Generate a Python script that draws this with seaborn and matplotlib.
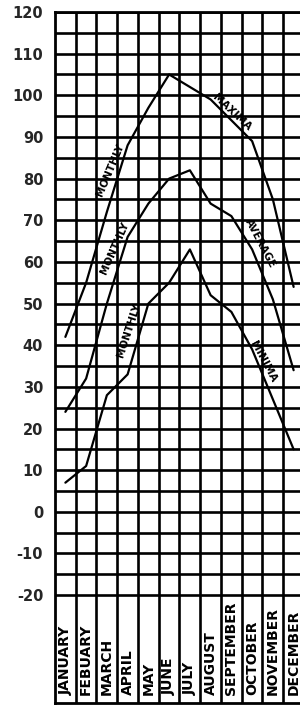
import numpy as np
import pandas as pd
import matplotlib
matplotlib.use("Agg")
import matplotlib.pyplot as plt
import seaborn as sns

months = ["JANUARY", "FEBUARY", "MARCH", "APRIL", "MAY", "JUNE", "JULY",
          "AUGUST", "SEPTEMBER", "OCTOBER", "NOVEMBER", "DECEMBER"]
maxima = [42, 55, 72, 88, 97, 105, 102, 99, 94, 89, 75, 54]
average = [24, 32, 50, 66, 74, 80, 82, 74, 71, 63, 51, 34]
minima = [7, 11, 28, 33, 50, 55, 63, 52, 48, 39, 27, 15]
ytick_values = list(range(-20, 121, 10))
ytick_labels = [str(v) for v in ytick_values]

# curve annotations: text, x (month index), y (value), angle
annotations = [
    ("MONTHLY", 2.15, 82.1, 67),
    ("MAXIMA", 8.03, 96.0, -43),
    ("MONTHLY", 2.36, 63.3, 66),
    ("AVERAGE", 9.38, 64.5, -62),
    ("MONTHLY", 3.05, 43.6, 72),
    ("MINIMA", 9.55, 36.0, -62),
]

sns.set_style("white")
plt.rcParams['font.family'] = ['DejaVu Sans']

df = pd.DataFrame({
    "month": list(range(12)) * 3,
    "value": maxima + average + minima,
    "series": ["maxima"] * 12 + ["average"] * 12 + ["minima"] * 12,
})

W, H = 300, 705
fig = plt.figure(figsize=(W / 100, H / 100), dpi=100)
left_px, right_px, top_px, bot_px = 55, 304, 12, 703
ax = fig.add_axes([left_px / W, (H - bot_px) / H,
                   (right_px - left_px) / W, (bot_px - top_px) / H])

sns.lineplot(data=df, x="month", y="value", hue="series",
             palette={"maxima": "black", "average": "black", "minima": "black"},
             linewidth=1.6, legend=False, ax=ax, zorder=5)

ymin = -45.9
ax.set_xlim(-0.5, 11.5)
ax.set_ylim(ymin, 120)

# grid
ax.set_xticks(np.arange(0.5, 11.5, 1.0), minor=True)
ax.set_xticks([])
ax.set_yticks(ytick_values)
ax.set_yticklabels(ytick_labels, fontsize=10.5, fontweight="bold")
ax.set_yticks(np.arange(-15, 120, 10), minor=True)
ax.grid(which="minor", axis="x", color="black", linewidth=1.9)
ax.grid(which="both", axis="y", color="black", linewidth=1.9)
ax.tick_params(axis="both", which="both", length=0)
ax.tick_params(axis="y", pad=8.5)
for s in ax.spines.values():
    s.set_visible(True)
    s.set_color("black")
    s.set_linewidth(2.0)
ax.set_xlabel("")
ax.set_ylabel("")

# month labels in the bottom band
for i, m in enumerate(months):
    ax.text(i, ymin + 1.9, m, rotation=90, ha="center", va="bottom",
            fontsize=10, fontweight="bold", color="black")

for txt, x, y, ang in annotations:
    ax.text(x, y, txt, rotation=ang, ha="center", va="center",
            fontsize=7.5, fontweight="bold", color="black", zorder=6)

fig.savefig("out.png", dpi=100, facecolor="white")
